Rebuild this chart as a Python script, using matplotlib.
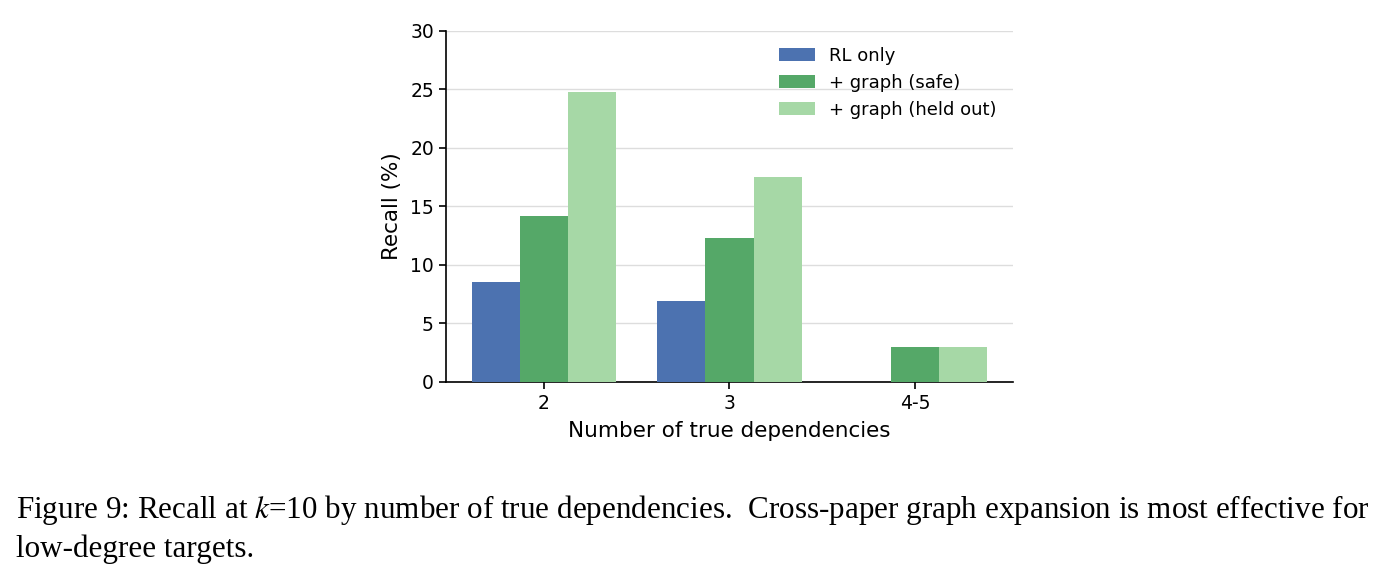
import matplotlib
matplotlib.use('Agg')
import matplotlib.pyplot as plt
import numpy as np

groups = ['2', '3', '4-5']
series = ['RL only', '+ graph (safe)', '+ graph (held out)']
rl_only = [8.5, 6.9, 0.0]
graph_safe = [14.2, 12.3, 3.0]
graph_held = [24.8, 17.5, 3.0]
colors = ['#4C72B0', '#55A868', '#A6D8A6']

plt.rcParams['font.family'] = 'DejaVu Sans'
plt.rcParams['mathtext.fontset'] = 'stix'

fig = plt.figure(figsize=(13.92, 5.81), dpi=100)
ax = fig.add_axes([0.3202, 0.343, 0.4076, 0.604])

x = np.arange(len(groups))
w = 0.26
for i, (vals, name) in enumerate(zip([rl_only, graph_safe, graph_held], series)):
    ax.bar(x + (i - 1) * w, vals, w, color=colors[i], label=name, zorder=3)

ax.set_ylim(0, 30)
ax.set_yticks(range(0, 31, 5))
ax.set_xticks(x)
ax.set_xticklabels(groups)
ax.tick_params(labelsize=13.5, width=1.2, length=5)
ax.set_ylabel('Recall (%)', fontsize=15.5, labelpad=6)
ax.set_xlabel('Number of true dependencies', fontsize=15.5, labelpad=6)
ax.grid(axis='y', color='#dddddd', linewidth=1, zorder=0)
ax.spines['top'].set_visible(False)
ax.spines['right'].set_visible(False)
ax.spines['left'].set_linewidth(1.2)
ax.spines['bottom'].set_linewidth(1.2)
ax.legend(loc='upper right', frameon=False, fontsize=13)

cap1 = 'Figure 9: Recall at $k$=10 by number of true dependencies.  Cross-paper graph expansion is most effective for'
cap2 = 'low-degree targets.'
fig.text(16 / 1392, 1 - 510 / 581, cap1, family='Liberation Serif', fontsize=22.4, va='center', ha='left')
fig.text(16 / 1392, 1 - 549 / 581, cap2, family='Liberation Serif', fontsize=22.4, va='center', ha='left')

fig.savefig('out.png', dpi=100)
